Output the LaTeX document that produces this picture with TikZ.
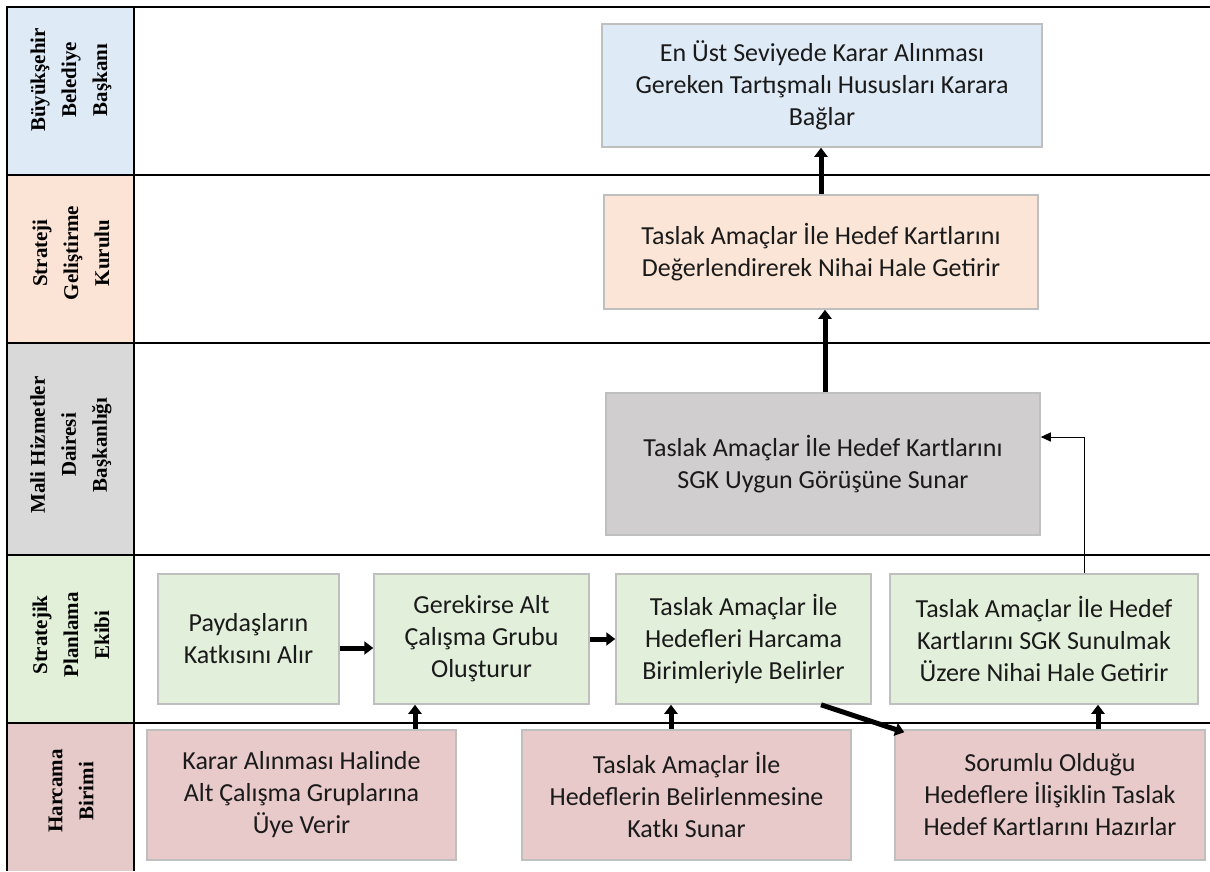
\documentclass[tikz,border=0pt]{standalone}
\usepackage{fontspec}
\setmainfont{Carlito}
\newfontfamily\lanefont{Liberation Serif}
\usetikzlibrary{arrows.meta,calc}
\definecolor{laneblue}{HTML}{DEEAF6}
\definecolor{lanepeach}{HTML}{FBE4D5}
\definecolor{lanegray}{HTML}{D9D9D9}
\definecolor{lanegreen}{HTML}{E2EFD9}
\definecolor{lanepink}{HTML}{E6CACA}
\definecolor{boxblue}{HTML}{DEEAF6}
\definecolor{boxpeach}{HTML}{FBE5D6}
\definecolor{boxgray}{HTML}{D0CECE}
\definecolor{boxgreen}{HTML}{E2EFDA}
\definecolor{boxpink}{HTML}{E8CACA}
\definecolor{boxline}{HTML}{BFBFBF}
\definecolor{txt}{HTML}{1A1A1A}
\tikzset{
  procbox/.style={draw=boxline, line width=1.5pt, inner sep=0pt, align=center,
    text=txt, font=\fontsize{26}{32}\selectfont},
  lanelabel/.style={rotate=90, align=center, inner sep=0pt,
    font=\lanefont\bfseries\fontsize{21}{31}\selectfont},
  tableline/.style={line width=2.8pt, black},
  bigarrow/.style={line width=5pt, -{Triangle[width=13pt,length=9pt]}},
  thinarrow/.style={line width=1pt, -{Triangle[width=9pt,length=10pt]}}
}
\begin{document}
\begin{tikzpicture}[x=1pt,y=-1pt]
\useasboundingbox (0,0) rectangle (1210,871);
% lane fills
\fill[laneblue]  (7,7) rectangle (134,175);
\fill[lanepeach] (7,175) rectangle (134,343);
\fill[lanegray]  (7,343) rectangle (134,555);
\fill[lanegreen] (7,555) rectangle (134,723);
\fill[lanepink]  (7,723) rectangle (134,871);
% table lines
\draw[tableline] (7,6) -- (7,871);
\draw[tableline] (134,6) -- (134,871);
\draw[tableline] (6,7) -- (1210,7);
\draw[tableline] (7,175) -- (1210,175);
\draw[tableline] (7,343) -- (1210,343);
\draw[tableline] (7,555) -- (1210,555);
\draw[tableline] (7,723) -- (1210,723);
% lane labels
\node[lanelabel] (l1) at (71,80) {Büyükşehir\\Belediye\\Başkanı};
\node[lanelabel] (l2) at (71,253) {Strateji\\Geliştirme\\Kurulu};
\node[lanelabel] (l3) at (71,445) {Mali Hizmetler\\Dairesi\\Başkanlığı};
\node[lanelabel] (l4) at (71,635) {Stratejik\\Planlama\\Ekibi};
\node[lanelabel] (l5) at (71,791) {Harcama\\Birimi};
% boxes
\node[procbox, fill=boxblue, minimum width=440pt, minimum height=123pt] (top) at (822,85.5)
  {En Üst Seviyede Karar Alınması\\Gereken Tartışmalı Hususları Karara\\Bağlar};
\node[procbox, fill=boxpeach, minimum width=434pt, minimum height=114pt] (sgk) at (821,252)
  {Taslak Amaçlar İle Hedef Kartlarını\\Değerlendirerek Nihai Hale Getirir};
\node[procbox, fill=boxgray, minimum width=434pt, minimum height=142pt] (mali) at (823,464)
  {Taslak Amaçlar İle Hedef Kartlarını\\SGK Uygun Görüşüne Sunar};
\node[procbox, fill=boxgreen, minimum width=181pt, minimum height=130pt] (g1) at (248.5,639)
  {Paydaşların\\Katkısını Alır};
\node[procbox, fill=boxgreen, minimum width=215pt, minimum height=130pt] (g2) at (481.5,639)
  {Gerekirse Alt\\Çalışma Grubu\\Oluşturur};
\node[procbox, fill=boxgreen, minimum width=255pt, minimum height=130pt] (g3) at (743.5,639)
  {Taslak Amaçlar İle\\Hedefleri Harcama\\Birimleriyle Belirler};
\node[procbox, fill=boxgreen, minimum width=308pt, minimum height=130pt] (g4) at (1044,639)
  {Taslak Amaçlar İle Hedef\\Kartlarını SGK Sunulmak\\Üzere Nihai Hale Getirir};
\node[procbox, fill=boxpink, minimum width=309pt, minimum height=130pt] (p1) at (301.5,795)
  {Karar Alınması Halinde\\Alt Çalışma Gruplarına\\Üye Verir};
\node[procbox, fill=boxpink, minimum width=329pt, minimum height=130pt] (p2) at (686.5,795)
  {Taslak Amaçlar İle\\Hedeflerin Belirlenmesine\\Katkı Sunar};
\node[procbox, fill=boxpink, minimum width=310pt, minimum height=130pt] (p3) at (1050,795)
  {Sorumlu Olduğu\\Hedeflere İlişiklin Taslak\\Hedef Kartlarını Hazırlar};
% connectors
\draw[bigarrow] (g1.east |- 0,648) -- (g2.west |- 0,648);
\draw[bigarrow] (g2.east |- 0,639) -- (g3.west |- 0,639);
\draw[bigarrow] (p1.north -| 415,0) -- (g2.south -| 415,0);
\draw[bigarrow] (p2.north -| 671,0) -- (g3.south -| 671,0);
\draw[bigarrow] (p3.north -| 1098,0) -- (g4.south -| 1098,0);
\draw[bigarrow] (g3.south -| 821,0) -- ([xshift=10pt,yshift=-3pt]p3.north west);
\draw[bigarrow] (mali.north -| 825,0) -- (sgk.south -| 825,0);
\draw[bigarrow] (sgk.north -| 821,0) -- (top.south -| 821,0);
\coordinate (bend) at (1084,437);
\draw[thinarrow] (g4.north -| bend) -- (bend) -- (mali.east |- bend);
\end{tikzpicture}
\end{document}
